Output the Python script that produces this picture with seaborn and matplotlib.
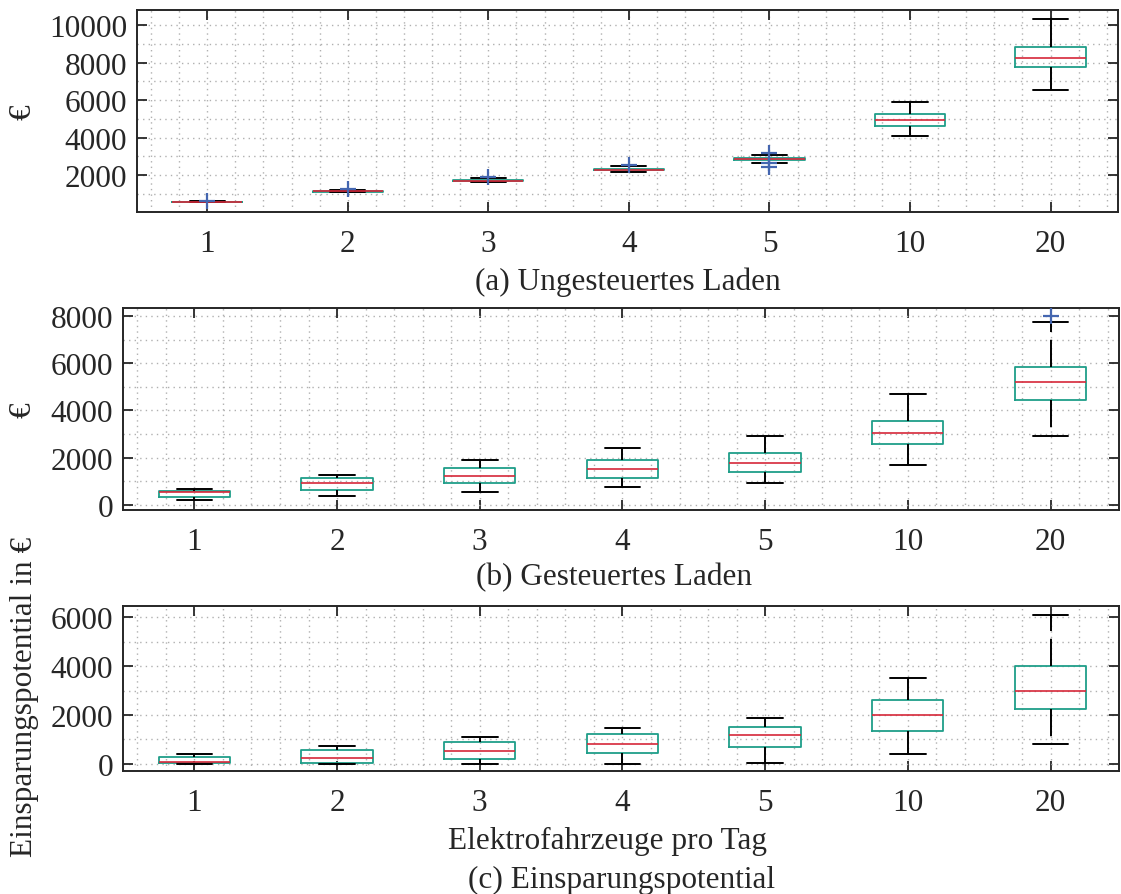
import numpy as np
import pandas as pd
import matplotlib
matplotlib.use("Agg")
import matplotlib.pyplot as plt
from matplotlib.ticker import MultipleLocator
import seaborn as sns

cats = ["1", "2", "3", "4", "5", "10", "20"]

# (a) Ungesteuertes Laden  -> whisker low, q1, median, q3, whisker high
a_lo = [530, 1070, 1600, 2160, 2640, 4090, 6550]
a_q1 = [550, 1110, 1680, 2270, 2790, 4620, 7760]
a_med = [560, 1130, 1700, 2290, 2860, 4940, 8230]
a_q3 = [575, 1150, 1730, 2330, 2920, 5260, 8820]
a_hi = [600, 1200, 1860, 2480, 3070, 5900, 10330]
a_out_x = ["1", "2", "3", "4", "5", "5", "5"]
a_out_y = [620, 1270, 1890, 2540, 3170, 2620, 2420]

# (b) Gesteuertes Laden
b_lo = [199, 382, 551, 738, 920, 1696, 2900]
b_q1 = [313, 610, 907, 1132, 1372, 2560, 4452]
b_med = [525, 933, 1230, 1514, 1781, 3053, 5215]
b_q3 = [590, 1119, 1543, 1883, 2192, 3549, 5838]
b_hi = [645, 1259, 1908, 2404, 2926, 4681, 7759]
b_out_x = ["20"]
b_out_y = [7990]

# (c) Einsparungspotential
c_lo = [0, 0, 0, 0, 40, 410, 808]
c_q1 = [30, 30, 205, 426, 685, 1341, 2243]
c_med = [85, 250, 533, 820, 1164, 1997, 2981]
c_q3 = [270, 565, 890, 1230, 1505, 2612, 4018]
c_hi = [380, 730, 1095, 1476, 1886, 3501, 6109]

teal = "#1f9e89"
red = "#d62839"
blue = "#4466b0"
dark = "#262626"


def long_frame(lo, q1, med, q3, hi):
    rows = []
    for c, *vals in zip(cats, lo, q1, med, q3, hi):
        rows += [(c, v) for v in vals]
    return pd.DataFrame(rows, columns=["n", "value"])


sns.set_style("ticks")
plt.rcParams["font.family"] = ["Liberation Serif", "DejaVu Serif"]

W, H = 1121, 895
fig = plt.figure(figsize=(W / 100, H / 100), dpi=100)

# axes boxes in pixels: left, top, right, bottom
boxes = [(137, 11, 1118, 213), (123, 309, 1119, 511), (123, 607, 1119, 772)]
panels = [
    (long_frame(a_lo, a_q1, a_med, a_q3, a_hi), a_out_x, a_out_y, (20, 10820), range(2000, 10001, 2000)),
    (long_frame(b_lo, b_q1, b_med, b_q3, b_hi), b_out_x, b_out_y, (-225, 8340), range(0, 8001, 2000)),
    (long_frame(c_lo, c_q1, c_med, c_q3, c_hi), [], [], (-300, 6466), range(0, 6001, 2000)),
]

fs = 22.5
axes = []
for (l, t, r, b), (df, ox, oy, ylim, yt) in zip(boxes, panels):
    ax = fig.add_axes([l / W, 1 - b / H, (r - l) / W, (b - t) / H])
    sns.boxplot(data=df, x="n", y="value", order=cats, whis=np.inf, width=0.5,
                fill=False, color=teal, linewidth=1.3, showfliers=False,
                medianprops=dict(color=red, linewidth=1.2),
                whiskerprops=dict(color="black", linewidth=1.4, linestyle=(0, (14, 4))),
                capprops=dict(color="black", linewidth=1.4),
                ax=ax)
    if ox:
        sns.stripplot(x=ox, y=oy, order=cats, jitter=False, marker="+",
                      color=blue, size=12, linewidth=1.6, ax=ax)
    ax.set_xlim(-0.5, 6.48)
    ax.set_ylim(*ylim)
    ax.set_yticks(list(yt))
    ax.yaxis.set_minor_locator(MultipleLocator(1000))
    ax.xaxis.set_minor_locator(MultipleLocator(0.2))
    ax.set_xlabel("")
    ax.set_ylabel("")
    ax.set_axisbelow(True)
    ax.grid(True, which="both", color="#b0b0b0", linestyle=(0, (1, 3)), linewidth=1.0)
    ax.tick_params(which="major", direction="in", length=7, width=1.3, color=dark,
                   top=True, right=True, labelsize=fs, labelcolor=dark)
    ax.tick_params(axis="x", pad=12)
    ax.tick_params(axis="y", pad=7)
    ax.tick_params(which="minor", length=0)
    for s in ax.spines.values():
        s.set_visible(True)
        s.set_linewidth(1.4)
        s.set_color(dark)
    axes.append(ax)

fig.text(23 / W, 1 - 112 / H, "€", rotation=90, ha="center", va="center", fontsize=fs, color=dark)
fig.text(23 / W, 1 - 410 / H, "€", rotation=90, ha="center", va="center", fontsize=fs, color=dark)
fig.text(25 / W, 1 - 697 / H, "Einsparungspotential in €", rotation=90, ha="center", va="center",
         fontsize=fs, color=dark)

fig.text(628 / W, 1 - 282 / H, "(a) Ungesteuertes Laden", ha="center", va="center", fontsize=fs, color=dark)
fig.text(614 / W, 1 - 578 / H, "(b) Gesteuertes Laden", ha="center", va="center", fontsize=fs, color=dark)
fig.text(607 / W, 1 - 841 / H, "Elektrofahrzeuge pro Tag", ha="center", va="center", fontsize=fs, color=dark)
fig.text(622 / W, 1 - 880 / H, "(c) Einsparungspotential", ha="center", va="center", fontsize=fs, color=dark)

fig.savefig("out.png", dpi=100)
